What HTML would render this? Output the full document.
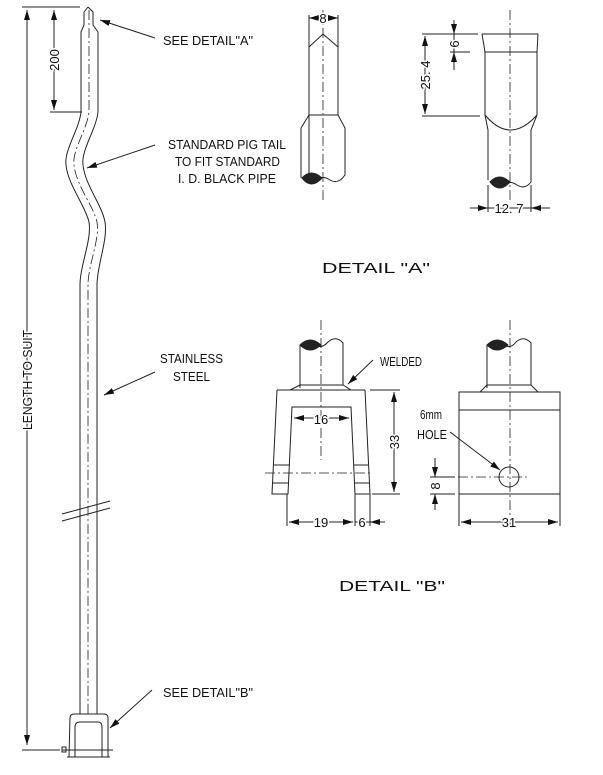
<!DOCTYPE html>
<html><head><style>
html,body{margin:0;padding:0;background:#fff;}
svg{display:block;}
text{font-family:"Liberation Sans",sans-serif;fill:#111;}
.d{paint-order:stroke;stroke:#fff;stroke-width:3px;}
</style></head><body>
<svg width="603" height="775" viewBox="0 0 603 775" xmlns="http://www.w3.org/2000/svg">
<defs>
<marker id="ar" viewBox="0 0 10 6" refX="10" refY="3" markerWidth="10" markerHeight="6" orient="auto-start-reverse" markerUnits="userSpaceOnUse"><path d="M0,0 L10,3 L0,6 z" fill="#111"/></marker>
</defs>
<rect x="0" y="0" width="603" height="775" fill="#fff"/>
<g fill="none" stroke="#222" stroke-width="1">
<!-- main rod -->
<path d="M88,7 L84,12 L84,25 L81,32 L81,112 C79,130 64,150 66,165 C68,185 85,205 89,222 C92,240 80,265 80,285 L80,714"/>
<path d="M88,7 L93,12 L93,25 L98,32 L98,112 C96,130 81,150 83,165 C85,185 102,205 105,222 C108,240 97,265 97,285 L97,714"/>
<path d="M89,10 L89,112 C87,130 72,150 74,165 C76,185 93,205 97,222 C100,240 88,265 88,285 L88,714" stroke-dasharray="10,3,2,3" stroke-width="0.8"/>
<!-- break -->
<path d="M62,514 L110,501 M62,521 L110,508"/>
<!-- base -->
<path d="M69,757 L70,718 Q70,714 74,714 L104,714 Q108,714 108,718 L108,757"/>
<path d="M75,757 L75,727 Q75,722 80,722 L98,722 Q102,722 102,727 L102,757"/>
<path d="M62,750 L113,750 M67,757 L110,757"/>
<rect x="62" y="747" width="4" height="5"/>
<!-- length dim -->
<path d="M27,10 L27,745" marker-start="url(#ar)" marker-end="url(#ar)"/>
<path d="M22,7 L80,7 M22,750 L60,750"/>
<!-- 200 dim -->
<path d="M54,10 L54,110" marker-start="url(#ar)" marker-end="url(#ar)"/>
<path d="M50,112 L82,112"/>
<!-- leaders -->
<path d="M155,38 L100,20" marker-end="url(#ar)"/>
<path d="M155,145 L87,168" marker-end="url(#ar)"/>
<path d="M155,372 L104,395" marker-end="url(#ar)"/>
<path d="M152,690 L110,728" marker-end="url(#ar)"/>

<!-- Detail A left -->
<path d="M323,10 L323,202" stroke-dasharray="10,3,2,3" stroke-width="0.8"/>
<path d="M309,180 L309,47 L323,34 L338,47 L338,115 L309,115 M309,115 L301,128 L301,178 M338,115 L345,128 L345,175 Q338,185 330,180 Q323,175 316,180"/>
<path d="M302,178 Q311,168 322,178 Q311,190 302,178 z" fill="#222"/>
<path d="M309,15 L309,47 M338,15 L338,47"/>
<path d="M317,18 L309,18" marker-end="url(#ar)"/><path d="M330,18 L338,18" marker-end="url(#ar)"/>

<!-- Detail A right -->
<path d="M510,10 L510,202" stroke-dasharray="10,3,2,3" stroke-width="0.8"/>
<path d="M482,34 L538,34 M482,34 L485,52 L485,115 Q510,145 537,115 L537,52 L538,34 M485,52 L537,52 M485,115 L488,130 L488,180 M537,115 L531,130 L531,182 Q525,190 517,185 Q510,180 505,185"/>
<path d="M490,182 Q499,172 510,182 Q499,194 490,182 z" fill="#222"/>
<path d="M422,34 L478,34 M422,116 L480,116 M450,52 L470,52"/>
<path d="M425,36 L425,114" marker-start="url(#ar)" marker-end="url(#ar)"/>
<path d="M454,20 L454,34" marker-end="url(#ar)"/><path d="M454,70 L454,52" marker-end="url(#ar)"/>
<path d="M454,34 L454,52"/>
<path d="M488,185 L488,212 M531,185 L531,212"/>
<path d="M470,208 L488,208" marker-end="url(#ar)"/><path d="M550,208 L531,208" marker-end="url(#ar)"/>
<path d="M488,208 L531,208"/>

<!-- Detail B left -->
<path d="M321,320 L321,460 M265,473 L373,473" stroke-dasharray="10,3,2,3" stroke-width="0.8"/>
<path d="M300,388 L300,345 M343,385 L343,343 Q336,335 328,342 Q321,350 314,344"/>
<path d="M300,345 Q310,335 321,345 Q310,355 300,345 z" fill="#222"/>
<path d="M300,385 L290,390 L351,390 L343,385 M300,385 L343,385"/>
<path d="M277,390 L365,390 M277,390 L272,494 L288,494 L292,407 L351,407 L355,494 L370,494 L365,390"/>
<path d="M273,465 L290,465 M272,483 L289,483 M354,465 L368,465 M355,483 L370,483"/>
<path d="M294,418 L349,418" marker-start="url(#ar)" marker-end="url(#ar)"/>
<path d="M370,390 L400,390 M372,494 L400,494"/>
<path d="M394,392 L394,492" marker-start="url(#ar)" marker-end="url(#ar)"/>
<path d="M287,494 L287,526 M355,494 L355,526 M370,494 L370,526"/>
<path d="M289,522 L353,522" marker-start="url(#ar)" marker-end="url(#ar)"/>
<path d="M385,522 L370,522" marker-end="url(#ar)"/>
<path d="M355,522 L370,522"/>
<path d="M373,360 L348,384" marker-end="url(#ar)"/>

<!-- Detail B right -->
<path d="M510,320 L510,530 M440,477 L527,477" stroke-dasharray="10,3,2,3" stroke-width="0.8"/>
<path d="M487,388 L487,345 M531,385 L531,343 Q524,335 516,342 Q510,350 503,344"/>
<path d="M487,345 Q497,335 508,345 Q497,355 487,345 z" fill="#222"/>
<path d="M487,385 L480,392 M531,385 L538,392 M487,385 L531,385"/>
<rect x="459" y="392" width="101" height="102"/>
<path d="M459,410 L560,410"/>
<circle cx="509" cy="477" r="10"/>
<path d="M450,432 L500,470" marker-end="url(#ar)"/>
<path d="M430,477 L455,477 M430,494 L455,494"/>
<path d="M435,458 L435,477" marker-end="url(#ar)"/><path d="M435,510 L435,494" marker-end="url(#ar)"/>
<path d="M459,494 L459,526 M560,494 L560,526"/>
<path d="M461,522 L558,522" marker-start="url(#ar)" marker-end="url(#ar)"/>
</g>

<g font-size="13">
<text x="163" y="45" textLength="90" lengthAdjust="spacingAndGlyphs">SEE DETAIL"A"</text>
<text x="168" y="149" textLength="118" lengthAdjust="spacingAndGlyphs">STANDARD PIG TAIL</text>
<text x="175" y="166" textLength="105" lengthAdjust="spacingAndGlyphs">TO FIT STANDARD</text>
<text x="178" y="183" textLength="98" lengthAdjust="spacingAndGlyphs">I. D. BLACK PIPE</text>
<text x="160" y="363" textLength="63" lengthAdjust="spacingAndGlyphs">STAINLESS</text>
<text x="173" y="381" textLength="37" lengthAdjust="spacingAndGlyphs">STEEL</text>
<text x="163" y="697" textLength="90" lengthAdjust="spacingAndGlyphs">SEE DETAIL"B"</text>
<text x="380" y="366" textLength="42" lengthAdjust="spacingAndGlyphs">WELDED</text>
<text x="420" y="419" textLength="22" lengthAdjust="spacingAndGlyphs">6mm</text>
<text x="417" y="439" textLength="30" lengthAdjust="spacingAndGlyphs">HOLE</text>
<text class="d" transform="translate(32,380) rotate(-90)" text-anchor="middle" textLength="100" lengthAdjust="spacingAndGlyphs">LENGTH TO SUIT</text>
<text class="d" transform="translate(59,60) rotate(-90)" text-anchor="middle">200</text>
<text class="d" x="323" y="23" text-anchor="middle">8</text>
<text class="d" transform="translate(430,75) rotate(-90)" text-anchor="middle">25. 4</text>
<text class="d" transform="translate(459,44) rotate(-90)" text-anchor="middle">6</text>
<text class="d" x="509" y="213" text-anchor="middle">12. 7</text>
<text class="d" x="321" y="424" text-anchor="middle">16</text>
<text class="d" transform="translate(399,442) rotate(-90)" text-anchor="middle">33</text>
<text class="d" x="321" y="527" text-anchor="middle">19</text>
<text class="d" x="362" y="527" text-anchor="middle">6</text>
<text class="d" transform="translate(440,486) rotate(-90)" text-anchor="middle">8</text>
<text class="d" x="509" y="527" text-anchor="middle">31</text>
</g>
<g font-size="15">
<text x="322" y="273" textLength="108" lengthAdjust="spacingAndGlyphs">DETAIL   "A"</text>
<text x="339" y="591" textLength="106" lengthAdjust="spacingAndGlyphs">DETAIL   "B"</text>
</g>
</svg>
</body></html>
